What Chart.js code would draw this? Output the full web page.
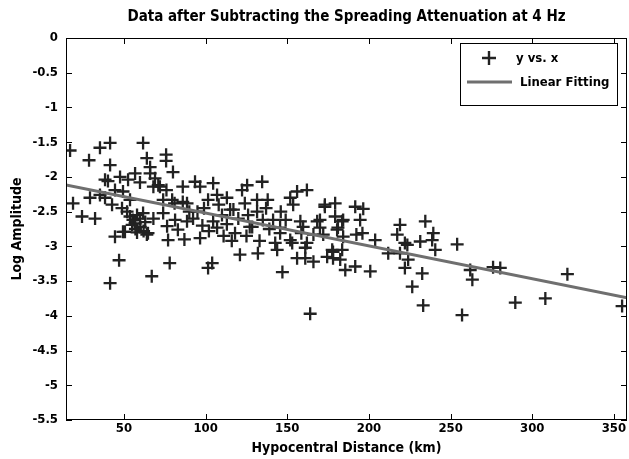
<!DOCTYPE html>
<html>
<head>
<meta charset="utf-8">
<script src="https://cdn.jsdelivr.net/npm/chart.js@4/dist/chart.umd.min.js"></script>
<style>
  html, body { margin: 0; padding: 0; background: #fff; }
  #wrap { width: 629px; height: 459px; }
</style>
</head>
<body>
<div id="wrap"><canvas id="grafico"></canvas></div>
<script>
// hypocentral distance (km)
const distance = [
  17, 28.6, 35.3, 41.5, 61.7, 41.5, 64, 75.8, 75.8, 66, 80, 18.8, 24.3, 32.3, 29.2, 35.3, 38.4, 40.2, 38.4, 42.7,
  44.5, 47, 41.5, 67, 78, 49.4, 44.5, 47.6, 52.5, 56.8, 59.8, 66, 69, 71, 68, 49.4, 53.7, 48.8, 51.9, 53.7,
  55.5, 58, 56.8, 59.8, 55, 61.7, 64, 68, 74, 76.4, 77, 79.5, 81.3, 83, 86, 86, 74, 72, 76, 81,
  93.5, 96.6, 104.6, 122.3, 125.4, 134.6, 88.6, 101.5, 107, 113, 117, 124, 131.5, 138, 151.8, 156, 162, 153.6, 173, 88.6,
  92.3, 104.6, 107, 96.6, 115, 118, 128.5, 131.5, 141.3, 145.6, 151.8, 158, 159.7, 162, 161, 168.3, 166, 121, 132, 143.8,
  156, 161, 166, 104, 101.5, 147, 164, 174.4, 179.3, 191.6, 196.5, 194.6, 184.2, 170, 219, 181, 196, 180.5, 172, 184.2,
  203.8, 178, 183.6, 178, 182.4, 185.5, 191.6, 200.8, 211.8, 217.3, 222, 219, 224, 222, 232.6, 226.5, 233.2, 231.4, 234.5, 238.7,
  239.4, 240.6, 254, 262, 263.3, 257, 276, 280.4, 289.6, 308, 321.5, 355, 50.6, 64.7, 153, 177.5, 192.3, 170, 158.6, 223.5,
  127, 145.6, 142.6, 179.3, 173, 183.6, 95, 99, 110, 113, 120, 126, 135, 139, 98, 102, 111, 116, 125, 133,
  90, 108, 137, 146, 149, 87, 60, 62, 58, 63, 57
];
// log amplitude after removing spreading attenuation
const logAmp = [
  -1.62, -1.76, -1.58, -1.51, -1.51, -1.83, -1.73, -1.68, -1.77, -1.86, -1.93, -2.38, -2.57, -2.6, -2.3, -2.26, -2.04, -2.06, -2.3, -2.4,
  -2.86, -3.2, -3.53, -3.43, -3.24, -2.79, -2.19, -2.0, -2.04, -1.95, -2.08, -1.95, -2.02, -2.12, -2.14, -2.21, -2.33, -2.45, -2.5, -2.57,
  -2.62, -2.55, -2.67, -2.6, -2.69, -2.52, -2.83, -2.6, -2.52, -2.71, -2.91, -2.33, -2.62, -2.76, -2.14, -2.36, -2.33, -2.14, -2.19, -2.38,
  -2.07, -2.14, -2.09, -2.19, -2.12, -2.07, -2.38, -2.33, -2.26, -2.3, -2.47, -2.38, -2.33, -2.33, -2.3, -2.21, -2.19, -2.4, -2.43, -2.64,
  -2.6, -2.64, -2.73, -2.88, -2.47, -2.81, -2.72, -2.5, -2.62, -2.73, -2.91, -2.64, -2.72, -2.95, -3.02, -2.64, -2.83, -3.12, -3.1, -3.05,
  -3.17, -3.17, -3.22, -3.24, -3.31, -3.37, -3.97, -3.15, -2.38, -2.43, -2.46, -2.62, -2.62, -2.62, -2.69, -2.73, -2.81, -2.76, -2.83, -2.86,
  -2.91, -3.08, -3.05, -3.17, -3.19, -3.34, -3.29, -3.36, -3.1, -2.83, -2.95, -3.1, -3.19, -3.31, -3.39, -3.58, -3.85, -2.93, -2.64, -2.91,
  -2.81, -3.05, -2.97, -3.34, -3.48, -3.99, -3.3, -3.31, -3.81, -3.75, -3.4, -3.86, -2.79, -2.81, -2.95, -3.05, -2.83, -2.73, -2.81, -2.98,
  -2.72, -2.81, -2.95, -2.57, -2.4, -2.64, -2.5, -2.45, -2.55, -2.68, -2.6, -2.55, -2.62, -2.75, -2.7, -2.78, -2.85, -2.92, -2.85, -2.92,
  -2.5, -2.4, -2.45, -2.5, -2.62, -2.9, -2.72, -2.78, -2.8, -2.65, -2.75
];
// linear fit end points
const fitX = [14.5, 358];
const fitY = [-2.115, -3.74];

const xTicks = [50, 100, 150, 200, 250, 300, 350];
const yTicks = [-5.5, -5, -4.5, -4, -3.5, -3, -2.5, -2, -1.5, -1, -0.5, 0];

const FONT = "'Liberation Sans Narrow', 'DejaVu Sans Condensed', Arial, sans-serif";

// MATLAB-style box with inward ticks, plus the legend box
const frame = {
  id: 'frame',
  afterDraw(chart) {
    const { ctx, chartArea: a, scales } = chart;
    ctx.save();
    ctx.strokeStyle = '#000';
    ctx.lineWidth = 1;
    ctx.strokeRect(a.left + 0.5, a.top + 0.5, a.right - a.left - 1, a.bottom - a.top - 1);
    ctx.beginPath();
    xTicks.forEach(v => {
      const x = Math.round(scales.x.getPixelForValue(v)) + 0.5;
      ctx.moveTo(x, a.bottom); ctx.lineTo(x, a.bottom - 6);
      ctx.moveTo(x, a.top); ctx.lineTo(x, a.top + 6);
    });
    yTicks.forEach(v => {
      const y = Math.round(scales.y.getPixelForValue(v)) + 0.5;
      ctx.moveTo(a.left, y); ctx.lineTo(a.left + 6, y);
      ctx.moveTo(a.right, y); ctx.lineTo(a.right - 6, y);
    });
    ctx.stroke();

    const ds = chart.data.datasets;
    const bx = a.right - 167, by = a.top + 5, bw = 157, bh = 62;
    ctx.fillStyle = '#fff';
    ctx.fillRect(bx, by, bw, bh);
    ctx.strokeRect(bx + 0.5, by + 0.5, bw, bh);
    ctx.fillStyle = '#000';
    ctx.font = 'bold 13px ' + FONT;
    ctx.textBaseline = 'middle';
    ctx.strokeStyle = ds[0].borderColor;
    ctx.lineWidth = 2.4;
    ctx.beginPath();
    ctx.moveTo(bx + 22, by + 15); ctx.lineTo(bx + 36, by + 15);
    ctx.moveTo(bx + 29, by + 8); ctx.lineTo(bx + 29, by + 22);
    ctx.stroke();
    ctx.fillText(ds[0].label, bx + 56, by + 16);
    ctx.strokeStyle = ds[1].borderColor;
    ctx.lineWidth = ds[1].borderWidth;
    ctx.beginPath();
    ctx.moveTo(bx + 7, by + 39); ctx.lineTo(bx + 52, by + 39);
    ctx.stroke();
    ctx.fillText(ds[1].label, bx + 60, by + 40);
    ctx.restore();
  }
};

const ctx = document.getElementById('grafico').getContext('2d');
new Chart(ctx, {
  type: 'scatter',
  data: {
    datasets: [{
      label: 'y vs. x',
      data: distance.map((d, i) => ({ x: d, y: logAmp[i] })),
      pointStyle: 'cross',
      pointRadius: 6.5,
      pointHoverRadius: 6.5,
      borderColor: '#222',
      borderWidth: 2.3,
      showLine: false,
      order: 1
    }, {
      label: 'Linear Fitting',
      data: fitX.map((d, i) => ({ x: d, y: fitY[i] })),
      showLine: true,
      pointRadius: 0,
      borderColor: '#6f6f6f',
      borderWidth: 3,
      order: 0
    }]
  },
  options: {
    responsive: true,
    maintainAspectRatio: false,
    animation: false,
    layout: { autoPadding: false, padding: { left: 0, right: 2, top: 0, bottom: 0 } },
    plugins: {
      legend: { display: false },
      tooltip: { enabled: false },
      title: {
        display: true,
        fullSize: false,
        text: 'Data after Subtracting the Spreading Attenuation at 4 Hz',
        color: '#000',
        font: { family: FONT, size: 15, weight: 'bold' },
        padding: { top: 8, bottom: 12 }
      }
    },
    scales: {
      x: {
        type: 'linear',
        min: 14.5,
        max: 358,
        afterBuildTicks: s => { s.ticks = xTicks.map(v => ({ value: v })); },
        afterFit: s => { s.height = 39; s.paddingLeft = 0; s.paddingRight = 0; },
        grid: { display: false, drawTicks: false },
        border: { display: false },
        ticks: { color: '#000', padding: 1, font: { family: FONT, size: 13, weight: 'bold' }, maxRotation: 0 },
        title: {
          display: true,
          text: 'Hypocentral Distance (km)',
          color: '#000',
          font: { family: FONT, size: 14, weight: 'bold' },
          padding: { top: 0, bottom: 2 }
        }
      },
      y: {
        type: 'linear',
        min: -5.5,
        max: 0,
        afterBuildTicks: s => { s.ticks = yTicks.map(v => ({ value: v })); },
        afterFit: s => { s.width = 66; },
        grid: { display: false, drawTicks: false },
        border: { display: false },
        ticks: {
          color: '#000', padding: 8,
          font: { family: FONT, size: 13, weight: 'bold' },
          callback: v => String(v)
        },
        title: {
          display: true,
          text: 'Log Amplitude',
          color: '#000',
          font: { family: FONT, size: 14, weight: 'bold' },
          padding: { top: 9, bottom: 0 }
        }
      }
    }
  },
  plugins: [frame]
});
</script>
</body>
</html>
